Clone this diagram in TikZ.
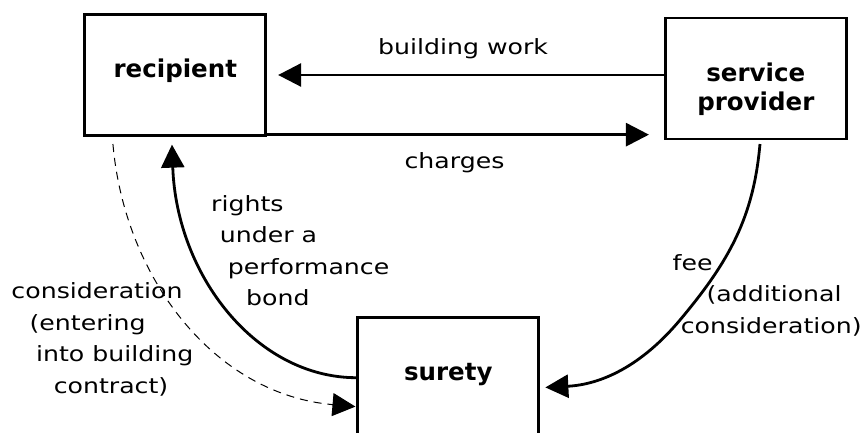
\documentclass[tikz,border=0pt]{standalone}
\usepackage{fontspec}
\setmainfont{DejaVu Sans}
\newfontfamily\lblfont{DejaVu Sans}[FakeStretch=1.2]
\usetikzlibrary{arrows.meta,positioning,calc}

\begin{document}
\begin{tikzpicture}[x=1pt,y=1pt,
  box/.style={draw, line width=2.7pt, minimum width=181pt, minimum height=121pt, inner sep=0pt, align=center, font=\bfseries\fontsize{24.5}{28.3}\selectfont},
  flow/.style={line width=2.8pt, -{Triangle[length=23pt,width=23pt]}},
  txt/.style={inner sep=0pt, align=left, font=\lblfont\fontsize{21}{31.6}\selectfont}]
\useasboundingbox (0,0) rectangle (864,432);
\node[box, text height=11pt, text depth=6pt] (rec) at (175.3,357) {recipient};
\node[box] (prov) at (755.8,353.6) {\rule{0pt}{40pt}service\\provider};
\node[box, text height=11pt, text depth=6pt] (sur) at (448.3,54.3) {surety};
\coordinate (chg) at ([yshift=2.2pt]rec.south east);
\coordinate (feebend) at (680,112);
\draw[flow, shorten >=11pt] (prov.west |- rec) -- (rec.east);
\draw[flow, shorten >=15pt] (chg) -- (chg -| prov.west);
\draw[flow, shorten <=3.8pt, shorten >=5.2pt] ([xshift=4.5pt]prov.south) to[out=-95,in=50] (feebend) to[out=230,in=3] ([yshift=-10pt]sur.east);
\draw[flow, shorten >=7.8pt] (sur.west) to[out=180,in=-88,out looseness=0.84,in looseness=1.17] ([xshift=-3.6pt]rec.south);
\draw[-{Triangle[length=23pt,width=23pt]}, line width=1pt, dash pattern=on 8pt off 6pt, shorten <=7.2pt, shorten >=1pt] ([xshift=-63pt]rec.south) to[out=-85,in=175] ([yshift=-29pt]sur.west);
\node[txt, anchor=base] (work) at (463,377) {building work};
\node[txt, anchor=base] (charges) at (454.5,264) {charges};
\node[txt, anchor=north west] (rights) at (211,237) {rights\\\hspace*{8.6pt}under a\\\hspace*{16.7pt}performance\\\hspace*{35pt}bond};
\node[txt, anchor=north west] (consid) at (11.3,149.7) {consideration\\\hspace*{18.1pt}(entering\\\hspace*{24.6pt}into building\\\hspace*{42.3pt}contract)};
\node[txt, anchor=north west] (fee) at (672.5,178) {fee\\\hspace*{33.9pt}(additional\\\hspace*{8.1pt}consideration)};
\end{tikzpicture}
\end{document}
